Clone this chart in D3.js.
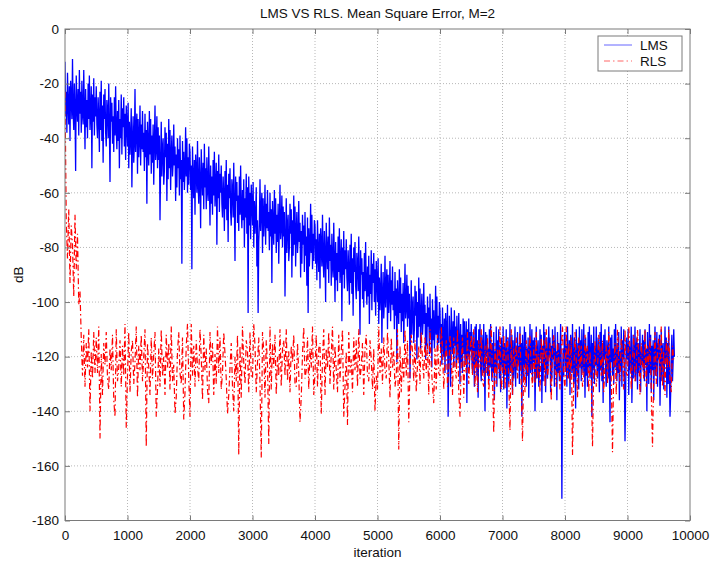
<!DOCTYPE html>
<html>
<head>
<meta charset="utf-8">
<script src="https://cdn.jsdelivr.net/npm/d3@7"></script>
<style>
  body { margin: 0; background: #fff; }
  text { font-family: "Liberation Sans", Arial, sans-serif; fill: #111; }
</style>
</head>
<body>
<div id="chart"></div>
<script>
// samples: LMS every 10 iterations, RLS every 20
const lmsStep = 10;
const rlsStep = 20;
const xTicks = [0, 1000, 2000, 3000, 4000, 5000, 6000, 7000, 8000, 9000, 10000];
const yTicks = [0, -20, -40, -60, -80, -100, -120, -140, -160, -180];
const seriesNames = ["LMS", "RLS"];

const lms = [
  -12,-32,-23,-38,-16,-28,-35,-21,-41,-19,-25,-33,-11,-30,-37,-20,-29,-52,-17,-27,-34,-22,-39,-15,-31,
  -23,-38,-19,-31,-35,-15,-29,-44,-22,-36,-26,-40,-20,-33,-17,-37,-30,-21,-51,-24,-34,-18,-39,-25,-32,
  -21,-35,-40,-25,-32,-45,-23,-37,-19,-41,-28,-49,-24,-33,-22,-38,-43,-26,-30,-40,-20,-36,-56,-25,-34,
  -27,-42,-32,-45,-25,-39,-21,-37,-44,-30,-41,-26,-51,-33,-40,-24,-46,-29,-36,-25,-43,-31,-48,-28,-35,
  -43,-27,-51,-34,-46,-39,-29,-58,-41,-32,-49,-42,-22,-45,-37,-31,-53,-33,-47,-40,-28,-50,-35,-44,-30,
  -45,-38,-52,-31,-47,-37,-64,-34,-43,-50,-30,-46,-33,-53,-39,-49,-35,-57,-42,-28,-48,-44,-32,-51,-36,
  -48,-39,-70,-50,-34,-54,-44,-40,-57,-52,-36,-47,-38,-63,-42,-55,-33,-51,-37,-59,-46,-39,-54,-49,-35,
  -50,-43,-63,-46,-58,-40,-51,-44,-61,-39,-55,-48,-86,-41,-56,-45,-59,-52,-36,-54,-40,-60,-47,-57,-42,
  -45,-59,-50,-88,-43,-55,-62,-48,-68,-46,-52,-60,-41,-57,-64,-47,-56,-73,-44,-54,-61,-49,-66,-42,-58,
  -51,-66,-47,-59,-63,-43,-57,-72,-50,-64,-54,-68,-48,-61,-45,-65,-58,-49,-79,-52,-62,-46,-67,-53,-60,
  -50,-64,-69,-54,-61,-74,-52,-66,-48,-70,-57,-78,-53,-62,-51,-67,-72,-55,-59,-69,-49,-65,-85,-54,-63,
  -56,-71,-61,-74,-54,-68,-50,-66,-73,-59,-70,-55,-80,-62,-69,-53,-75,-58,-104,-54,-72,-60,-77,-57,-64,
  -72,-56,-80,-63,-75,-68,-58,-87,-70,-104,-78,-71,-55,-74,-66,-60,-82,-62,-76,-69,-57,-79,-64,-73,-59,
  -74,-67,-81,-60,-76,-66,-93,-63,-72,-79,-59,-75,-62,-82,-68,-78,-64,-86,-71,-57,-77,-73,-61,-80,-65,
  -76,-67,-98,-78,-62,-82,-72,-68,-85,-80,-64,-75,-66,-91,-70,-83,-61,-79,-65,-87,-74,-67,-82,-77,-63,
  -78,-71,-91,-74,-86,-68,-79,-72,-89,-67,-83,-76,-94,-69,-104,-73,-87,-80,-64,-82,-68,-88,-75,-85,-70,
  -72,-86,-77,-92,-70,-82,-89,-75,-95,-73,-79,-87,-68,-84,-91,-74,-83,-100,-71,-81,-88,-76,-93,-69,-85,
  -79,-94,-75,-87,-91,-71,-85,-100,-78,-92,-82,-96,-76,-89,-73,-93,-86,-77,-107,-80,-90,-74,-95,-81,-88,
  -77,-91,-96,-81,-88,-101,-79,-93,-75,-97,-84,-105,-80,-89,-78,-94,-99,-82,-86,-96,-76,-92,-112,-81,-90,
  -84,-99,-89,-102,-82,-96,-78,-94,-101,-87,-98,-83,-108,-90,-97,-81,-103,-86,-93,-82,-100,-88,-105,-85,-92,
  -100,-84,-108,-91,-103,-96,-86,-115,-98,-89,-106,-99,-83,-102,-94,-88,-110,-90,-104,-97,-85,-107,-92,-101,-87,
  -103,-96,-110,-89,-105,-95,-122,-92,-101,-108,-88,-104,-91,-111,-97,-107,-93,-115,-100,-86,-106,-102,-90,-109,-94,
  -106,-97,-128,-108,-92,-112,-102,-98,-115,-110,-94,-105,-96,-121,-100,-113,-91,-109,-95,-117,-104,-97,-112,-107,-93,
  -108,-101,-121,-104,-116,-98,-109,-102,-119,-97,-113,-106,-124,-99,-114,-103,-117,-110,-94,-112,-98,-118,-105,-115,-100,
  -103,-117,-108,-123,-102,-113,-120,-106,-126,-104,-110,-118,-101,-142,-122,-105,-114,-131,-102,-112,-119,-107,-124,-103,-116,
  -109,-124,-105,-117,-121,-104,-115,-130,-108,-122,-112,-126,-106,-119,-107,-123,-116,-107,-137,-110,-120,-106,-125,-111,-118,
  -108,-121,-126,-111,-118,-131,-109,-123,-108,-127,-114,-135,-110,-119,-108,-124,-129,-112,-116,-126,-108,-122,-140,-111,-120,
  -112,-127,-117,-130,-110,-124,-108,-122,-129,-115,-126,-111,-136,-118,-125,-109,-131,-114,-121,-110,-128,-116,-133,-113,-120,
  -124,-109,-132,-115,-127,-120,-110,-139,-122,-113,-130,-123,-108,-126,-118,-112,-134,-114,-128,-121,-109,-131,-116,-125,-111,
  -123,-116,-130,-109,-125,-115,-142,-112,-121,-128,-109,-124,-111,-131,-117,-127,-113,-135,-120,-108,-126,-122,-110,-129,-114,
  -122,-113,-140,-124,-109,-128,-118,-114,-131,-126,-110,-121,-112,-137,-116,-129,-108,-125,-111,-133,-120,-113,-128,-123,-109,
  -120,-113,-133,-116,-128,-110,-121,-114,-131,-109,-125,-118,-136,-111,-126,-115,-129,-122,-108,-124,-172,-130,-117,-127,-112,
  -111,-125,-116,-131,-109,-121,-128,-114,-134,-112,-118,-126,-108,-123,-130,-113,-122,-139,-110,-120,-127,-115,-132,-109,-124,
  -114,-129,-110,-122,-126,-108,-120,-135,-113,-127,-117,-131,-111,-124,-109,-128,-121,-112,-142,-115,-125,-109,-130,-116,-123,
  -109,-123,-128,-113,-120,-133,-111,-125,-108,-129,-116,-137,-112,-121,-110,-126,-131,-114,-118,-128,-109,-124,-144,-113,-122,
  -112,-127,-117,-130,-110,-124,-108,-122,-129,-115,-126,-111,-136,-118,-125,-109,-131,-114,-121,-110,-128,-151,-133,-113,-120,
  -121,-110,-134,-116,-125,-119,-109,-137,-124,-112,-128,-122,-109,-129,-117,-113,-132,-115,-126,-120,-110,-133,-118,-123,-112,
  -125,-114,-129,-110,-123,-117,-140,-111,-120,-130,-108,-126,-112,-133,-116,-125,-114,-136,-119,-109,-127,-121,-111,-131,-115,
  -121,-112,-138,-123,-110,-129,-117,-115,-132,-124,-109,-122,-113,-135,-115,-130,-109,-126,-142,-134,-119,-112,-129,-122,-110,
  -120
];

const rls = [
  -23,-70,-84,-66,-93,-72,-79,-98,-68,-88,-75,-101,-96,-113,-127,-112,-131,-115,-124,-110,-140,-118,-128,-111,-126,
  -113,-126,-109,-150,-119,-134,-115,-123,-111,-128,-132,-117,-125,-112,-136,-142,-110,-129,-124,-114,-131,-116,-127,-108,-146,
  -127,-111,-133,-118,-114,-130,-122,-109,-135,-116,-125,-112,-129,-120,-110,-153,-115,-124,-134,-113,-128,-119,-111,-142,-132,
  -117,-131,-110,-127,-120,-134,-112,-124,-115,-132,-109,-129,-123,-141,-135,-118,-111,-126,-130,-113,-143,-133,-116,-108,-128,
  -142,-108,-127,-116,-131,-114,-124,-129,-110,-120,-136,-112,-125,-117,-132,-137,-111,-123,-115,-134,-119,-130,-109,-126,-113,
  -132,-126,-111,-119,-128,-141,-134,-124,-115,-131,-140,-120,-129,-112,-156,-116,-135,-109,-122,-130,-114,-118,-133,-111,-127,
  -128,-108,-116,-133,-122,-113,-130,-157,-111,-118,-135,-114,-123,-152,-109,-132,-115,-124,-112,-134,-120,-127,-110,-131,-117,
  -114,-127,-110,-129,-118,-133,-116,-122,-112,-130,-131,-115,-126,-144,-135,-119,-109,-128,-125,-113,-132,-117,-124,-109,-134,
  -126,-112,-131,-117,-115,-141,-121,-110,-134,-117,-124,-111,-130,-119,-109,-132,-116,-125,-133,-112,-129,-118,-110,-142,-131,
  -118,-145,-111,-126,-121,-133,-113,-125,-114,-131,-110,-128,-124,-115,-134,-117,-112,-127,-129,-114,-121,-132,-117,-140,-127,
  -132,-109,-126,-117,-130,-113,-125,-128,-111,-121,-135,-113,-124,-118,-131,-127,-110,-154,-116,-133,-120,-129,-110,-127,-114,
  -144,-125,-112,-118,-129,-114,-133,-123,-116,-130,-111,-121,-128,-113,-126,-115,-134,-110,-123,-131,-137,-117,-132,-112,-126,
  -127,-109,-117,-132,-121,-114,-131,-125,-112,-119,-134,-113,-124,-128,-110,-133,-142,-123,-113,-135,-119,-126,-111,-130,-118,
  -112,-127,-110,-131,-118,-133,-114,-124,-110,-129,-131,-116,-126,-113,-135,-119,-109,-128,-148,-115,-130,-117,-126,-109,-132,
  -126,-112,-132,-117,-113,-129,-147,-110,-134,-117,-124,-113,-128,-119,-111,-130,-151,-123,-133,-114,-127,-118,-112,-125,-131,
  -116,-130,-111,-128,-119,-133,-113,-123,-114,-131,-110,-128,-122,-115,-136,-117,-112,-125,-131,-114,-121,-132,-117,-109,-127,
  -132,-109,-128,-115,-130,-113,-156,-128,-111,-121,-135,-113,-124,-116,-131,-127,-112,-122,-116,-133,-118,-129,-153,-125,-114,
  -131,-125,-112,-118,-127,-114,-133,-123,-116,-130,-111,-121,-128,-155,-124,-115,-134,-110,-121,-129,-113,-119,-132,-110,-126,
  -127,-109,-117,-132,-121,-112,-129,-125,-110,-119,-134,-115,-122,-128,-110,-131,-116,-123,-113,-133,-153,-126,-111,-130,-118,
  -113,-128,-109,-131,-118,-134,-114,-124,-110,-129,-133,-116,-121
];

const width = 712, height = 563;
const margin = { top: 29, right: 22, bottom: 42.5, left: 65 };
const boxColor = "#7a7a7a";

const svg = d3.select("#chart").append("svg")
  .attr("width", width)
  .attr("height", height)
  .style("font-size", "13px");

const x = d3.scaleLinear().domain([0, 10000]).range([margin.left, width - margin.right]);
const y = d3.scaleLinear().domain([-180, 0]).range([height - margin.bottom, margin.top]);

// dotted grid
svg.append("g")
  .selectAll("line")
  .data(xTicks.slice(1, -1))
  .join("line")
  .attr("x1", d => x(d)).attr("x2", d => x(d))
  .attr("y1", y(0)).attr("y2", y(-180))
  .attr("stroke", "#b8b8b8")
  .attr("stroke-dasharray", "1,2");

svg.append("g")
  .selectAll("line")
  .data(yTicks.slice(1, -1))
  .join("line")
  .attr("x1", x(0)).attr("x2", x(10000))
  .attr("y1", d => y(d)).attr("y2", d => y(d))
  .attr("stroke", "#b8b8b8")
  .attr("stroke-dasharray", "1,2");

// series
svg.append("clipPath").attr("id", "plot-clip")
  .append("rect")
  .attr("x", x(0)).attr("y", y(0))
  .attr("width", x(10000) - x(0)).attr("height", y(-180) - y(0));

const lineFor = step => d3.line()
  .x((d, i) => x(i * step))
  .y(d => y(d));

const plot = svg.append("g").attr("clip-path", "url(#plot-clip)");

plot.append("path")
  .datum(lms)
  .attr("d", lineFor(lmsStep))
  .attr("fill", "none")
  .attr("stroke", "#0000ff")
  .attr("stroke-width", 1.3);

plot.append("path")
  .datum(rls)
  .attr("d", lineFor(rlsStep))
  .attr("fill", "none")
  .attr("stroke", "#ff0000")
  .attr("stroke-width", 1.2)
  .attr("stroke-dasharray", "6,3,1.5,3");

// axes, ticks pointing inward like MATLAB
const fmt = d => String(d);

svg.append("g")
  .attr("transform", `translate(0,${y(-180)})`)
  .call(d3.axisBottom(x).tickValues(xTicks).tickFormat(fmt).tickSizeInner(-5).tickSizeOuter(0).tickPadding(10))
  .call(g => g.select(".domain").remove());

svg.append("g")
  .attr("transform", `translate(0,${y(0)})`)
  .call(d3.axisTop(x).tickValues(xTicks).tickFormat("").tickSizeInner(-5).tickSizeOuter(0))
  .call(g => g.select(".domain").remove());

svg.append("g")
  .attr("transform", `translate(${x(0)},0)`)
  .call(d3.axisLeft(y).tickValues(yTicks).tickFormat(fmt).tickSizeInner(-5).tickSizeOuter(0).tickPadding(6))
  .call(g => g.select(".domain").remove());

svg.append("g")
  .attr("transform", `translate(${x(10000)},0)`)
  .call(d3.axisRight(y).tickValues(yTicks).tickFormat("").tickSizeInner(-5).tickSizeOuter(0))
  .call(g => g.select(".domain").remove());

svg.selectAll(".tick line").attr("stroke", boxColor);
svg.selectAll(".tick text")
  .style("font-family", "'Liberation Sans', Arial, sans-serif")
  .style("font-size", "13.5px")
  .attr("fill", "#111");

svg.append("rect")
  .attr("x", x(0)).attr("y", y(0))
  .attr("width", x(10000) - x(0)).attr("height", y(-180) - y(0))
  .attr("fill", "none")
  .attr("stroke", boxColor);

// labels
svg.append("text")
  .attr("x", (x(0) + x(10000)) / 2)
  .attr("y", 18)
  .attr("text-anchor", "middle")
  .style("font-size", "13.5px")
  .text("LMS VS RLS. Mean Square Error, M=2");

svg.append("text")
  .attr("x", (x(0) + x(10000)) / 2)
  .attr("y", 557)
  .attr("text-anchor", "middle")
  .style("font-size", "13.5px")
  .text("iteration");

svg.append("text")
  .attr("transform", `translate(23,${(y(0) + y(-180)) / 2}) rotate(-90)`)
  .attr("text-anchor", "middle")
  .style("font-size", "13.5px")
  .text("dB");

// legend
const legend = svg.append("g");
legend.append("rect")
  .attr("x", 598).attr("y", 36)
  .attr("width", 84).attr("height", 35)
  .attr("fill", "#fff")
  .attr("stroke", boxColor);

const legendColors = ["#0000ff", "#ff0000"];
const legendDash = [null, "6,3,1.5,3"];
seriesNames.forEach((name, i) => {
  const ly = 45 + i * 16;
  legend.append("line")
    .attr("x1", 604).attr("x2", 632)
    .attr("y1", ly).attr("y2", ly)
    .attr("stroke", legendColors[i])
    .attr("stroke-opacity", 0.6)
    .attr("stroke-dasharray", legendDash[i]);
  legend.append("text")
    .attr("x", 640).attr("y", ly + 5)
    .style("font-size", "13.5px")
    .text(name);
});
</script>
</body>
</html>
